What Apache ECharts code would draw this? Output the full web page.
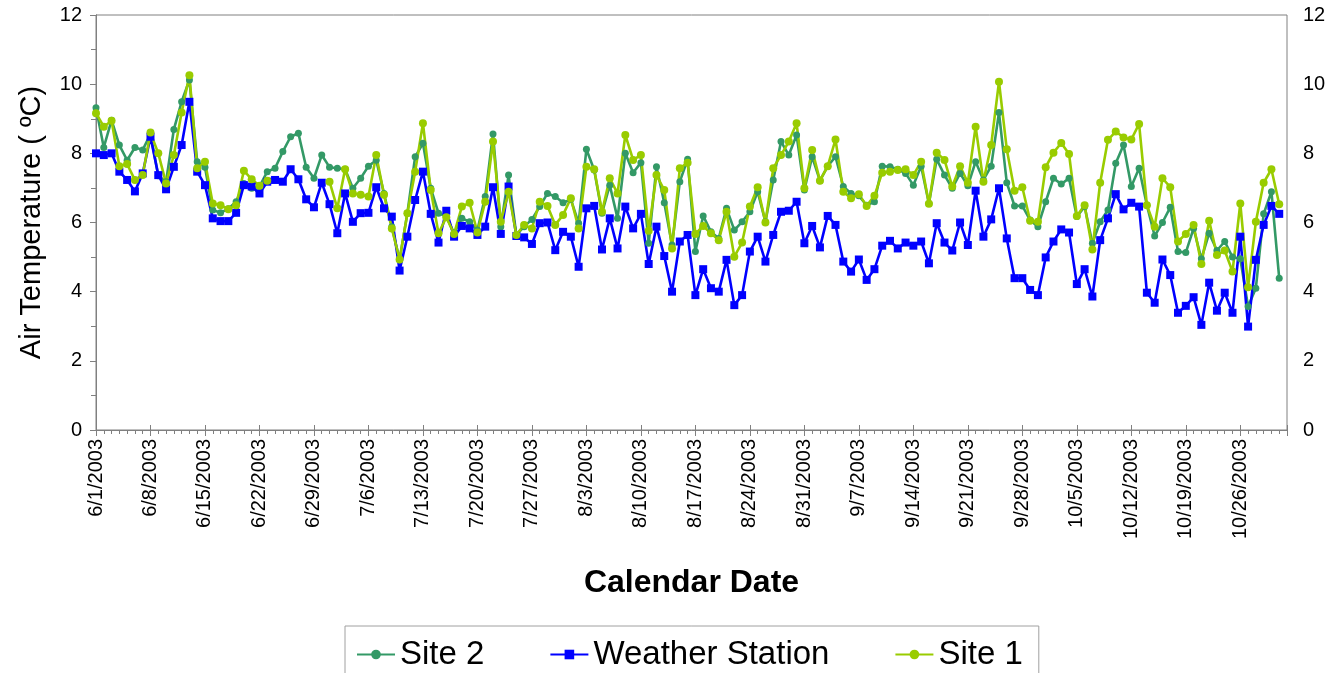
<!DOCTYPE html>
<html><head><meta charset="utf-8">
<script src="https://cdn.jsdelivr.net/npm/echarts@6/dist/echarts.min.js"></script>
<style>html,body{margin:0;padding:0;background:#fff}#c{width:1334px;height:673px}</style>
</head><body><div id="c"></div>
<script>
// Weekly tick labels (one every 7 days starting 6/1/2003)
const tickLabels = ['6/1/2003','6/8/2003','6/15/2003','6/22/2003','6/29/2003','7/6/2003','7/13/2003','7/20/2003','7/27/2003','8/3/2003','8/10/2003','8/17/2003','8/24/2003','8/31/2003','9/7/2003','9/14/2003','9/21/2003','9/28/2003','10/5/2003','10/12/2003','10/19/2003','10/26/2003'];
const seriesNames = ['Site 2','Weather Station','Site 1'];
// Daily values, 6/1/2003 .. 10/31/2003
const site2 = [9.32,8.17,8.96,8.24,7.8,8.17,8.1,8.56,7.35,7.18,8.69,9.49,10.12,7.76,7.6,6.36,6.28,6.4,6.6,7.13,6.99,7.04,7.47,7.57,8.05,
8.48,8.58,7.6,7.28,7.95,7.6,7.57,7.54,6.99,7.28,7.63,7.8,6.84,5.88,4.92,6.27,7.9,8.29,6.99,6.27,6.17,5.69,6.12,6.02,5.78,
6.75,8.56,5.88,7.37,5.64,5.88,6.09,6.46,6.84,6.75,6.57,6.67,5.98,8.12,7.52,6.27,7.08,6.12,8.0,7.44,7.73,5.4,7.61,6.57,5.35,
7.18,7.83,5.16,6.19,5.73,5.54,6.41,5.78,6.02,6.31,6.89,6.02,7.23,8.34,7.95,8.53,6.94,7.9,7.21,7.63,7.9,7.04,6.84,6.77,6.5,
6.6,7.63,7.61,7.54,7.42,7.08,7.63,6.55,7.83,7.37,6.99,7.42,7.06,7.76,7.23,7.63,9.18,7.15,6.48,6.48,6.07,5.88,6.6,7.28,7.11,
7.28,6.17,6.46,5.4,6.02,6.36,7.71,8.24,7.04,7.57,6.5,5.61,6.0,6.44,5.16,5.13,5.83,4.95,5.69,5.19,5.45,5.0,4.95,3.57,4.1,6.25,6.89,4.39];
const weather = [8.0,7.95,8.0,7.47,7.23,6.9,7.42,8.48,7.37,6.96,7.61,8.24,9.49,7.47,7.08,6.12,6.04,6.04,6.28,7.08,7.04,6.84,7.18,7.23,7.18,
7.54,7.25,6.67,6.44,7.15,6.53,5.69,6.84,6.02,6.27,6.28,7.02,6.41,6.17,4.61,5.59,6.65,7.47,6.25,5.42,6.34,5.59,5.9,5.83,5.64,
5.88,7.02,5.67,7.04,5.61,5.57,5.38,5.98,6.0,5.2,5.73,5.59,4.72,6.41,6.48,5.22,6.12,5.25,6.46,5.83,6.25,4.8,5.88,5.03,4.0,
5.45,5.64,3.9,4.65,4.1,4.0,4.92,3.61,3.9,5.16,5.59,4.87,5.64,6.31,6.34,6.6,5.4,5.9,5.28,6.19,5.93,4.87,4.58,4.93,4.34,
4.65,5.33,5.47,5.25,5.42,5.33,5.45,4.82,5.98,5.42,5.19,6.0,5.35,6.92,5.59,6.09,6.99,5.54,4.39,4.39,4.05,3.9,4.99,5.45,5.8,
5.71,4.22,4.65,3.86,5.49,6.12,6.82,6.38,6.57,6.46,3.97,3.68,4.93,4.48,3.39,3.59,3.84,3.04,4.26,3.45,3.97,3.39,5.59,2.99,4.92,5.93,6.48,6.25];
const site1 = [9.16,8.77,8.94,7.63,7.69,7.23,7.37,8.6,8.0,7.13,7.95,9.18,10.26,7.57,7.76,6.55,6.5,6.38,6.5,7.5,7.25,7.06,7.21,null,null,
null,null,null,null,null,7.18,6.41,7.54,6.84,6.8,6.75,7.95,6.8,5.83,4.93,6.27,7.47,8.87,6.94,5.69,6.15,5.67,6.46,6.57,5.71,
6.6,8.34,6.02,6.89,5.64,5.93,5.83,6.6,6.48,5.93,6.22,6.7,5.83,7.61,7.54,6.31,7.28,6.84,8.53,7.81,7.95,5.76,7.37,6.94,5.25,
7.57,7.73,5.67,5.9,5.69,5.49,6.31,5.01,5.42,6.46,7.02,6.0,7.57,7.95,8.34,8.87,6.99,8.1,7.21,7.63,8.4,6.89,6.7,6.82,6.48,
6.77,7.44,7.47,7.52,7.54,7.37,7.76,6.54,8.02,7.81,7.04,7.63,7.15,8.77,7.18,8.24,10.07,8.12,6.92,7.02,6.05,6.02,7.6,8.02,8.3,
7.98,6.19,6.5,5.22,7.15,8.39,8.63,8.46,8.4,8.85,6.5,5.88,7.28,7.02,5.45,5.67,5.93,4.8,6.05,5.06,5.19,4.58,6.55,4.13,6.02,7.15,7.54,6.53];

const FONT = "'Liberation Sans', Arial, Helvetica, sans-serif";
const AX = '#808080';
const toXY = arr => arr.map((v, i) => [i, v == null ? '-' : v]);

const chart = echarts.init(document.getElementById('c'), null, {renderer: 'canvas'});
const yBase = {
  type: 'value', min: 0, max: 12, interval: 2,
  axisLine: {show: true, lineStyle: {color: AX, width: 1}},
  axisTick: {show: true, length: 6, lineStyle: {color: AX}},
  minorTick: {show: true, splitNumber: 2, length: 5, lineStyle: {color: AX}},
  axisLabel: {fontSize: 20, color: '#000', fontFamily: FONT, margin: 14},
  splitLine: {show: false}
};
chart.setOption({
  animation: false,
  textStyle: {fontFamily: FONT},
  grid: {left: 96, right: 47, top: 15, bottom: 243, show: true, borderColor: AX, borderWidth: 1, containLabel: false},
  xAxis: [{
    type: 'value', min: 0, max: 153, interval: 7, position: 'bottom',
    axisLine: {lineStyle: {color: AX, width: 1}},
    axisTick: {length: 6, lineStyle: {color: AX}},
    axisLabel: {rotate: 90, margin: 9, fontSize: 20, color: '#000', fontFamily: FONT,
      formatter: v => (v % 7 === 0 && tickLabels[v / 7]) ? tickLabels[v / 7] : ''},
    splitLine: {show: false},
    name: 'Calendar Date', nameLocation: 'middle', nameGap: 137,
    nameTextStyle: {fontSize: 32, fontWeight: 'bold', color: '#000', fontFamily: FONT}
  }, {
    type: 'value', min: 0, max: 153, interval: 1, position: 'bottom',
    axisLine: {show: false}, axisLabel: {show: false}, splitLine: {show: false},
    axisTick: {length: 4, lineStyle: {color: AX}}
  }, {
    type: 'value', min: 0, max: 153, interval: 7, position: 'bottom',
    axisLine: {show: false}, axisLabel: {show: false}, splitLine: {show: false},
    axisTick: {inside: true, length: 5, lineStyle: {color: AX}}
  }],
  yAxis: [Object.assign({}, yBase, {
    position: 'left',
    name: 'Air Temperature ( ºC)', nameLocation: 'middle', nameGap: 50,
    nameTextStyle: {fontSize: 29, color: '#000', fontFamily: FONT}
  }), Object.assign({}, yBase, {
    position: 'right',
    axisTick: {show: true, inside: true, length: 6, lineStyle: {color: AX}},
    minorTick: {show: true, splitNumber: 2, length: 5, lineStyle: {color: AX}},
    axisLabel: {fontSize: 20, color: '#000', fontFamily: FONT, margin: 16}
  })],
  legend: {
    data: seriesNames, left: 345, top: 626, orient: 'horizontal',
    itemWidth: 38, itemHeight: 12, itemGap: 65,
    padding: [12, 16, 20, 11],
    borderColor: '#a0a0a0', borderWidth: 1,
    textStyle: {fontSize: 33, color: '#000', fontFamily: FONT}
  },
  series: [{
    name: seriesNames[0], type: 'line', data: toXY(site2),
    color: '#339966', symbol: 'circle', symbolSize: 7,
    lineStyle: {width: 2.6, color: '#339966'}, itemStyle: {color: '#339966'}
  }, {
    name: seriesNames[1], type: 'line', data: toXY(weather),
    color: '#0000ff', symbol: 'rect', symbolSize: 8,
    lineStyle: {width: 2.6, color: '#0000ff'}, itemStyle: {color: '#0000ff'}
  }, {
    name: seriesNames[2], type: 'line', data: toXY(site1), connectNulls: false,
    color: '#99cc00', symbol: 'circle', symbolSize: 8,
    lineStyle: {width: 2.6, color: '#99cc00'}, itemStyle: {color: '#99cc00'}
  }]
});
</script></body></html>
